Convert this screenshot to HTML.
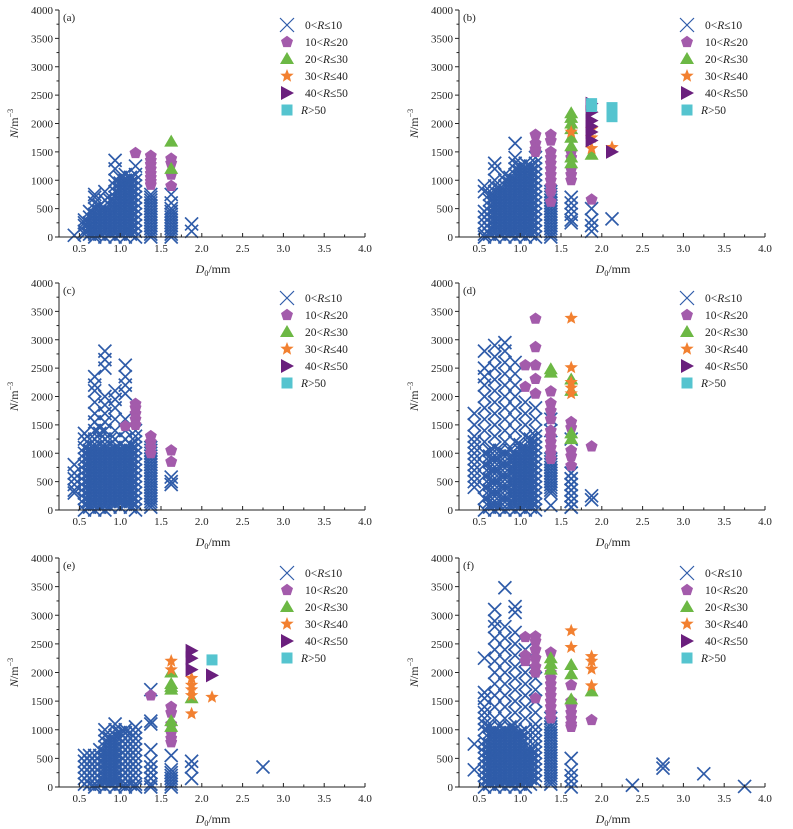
<!DOCTYPE html>
<html><head><meta charset="utf-8"><style>
html,body{margin:0;padding:0;background:#fff;}
svg{display:block;font-family:"Liberation Serif",serif;}
</style></head><body>
<svg id="chart" width="793" height="829" viewBox="0 0 793 829"></svg>
<script>
// ---- data: [D bin, [N values]] ----
const aCross=[[0.4375,[30]],[0.5625,[300,250,200,100,50]],[0.6875,[750,700,600,500,400,300,200,100,50,0]],[0.8125,[800,650,500,400,300,200,100,0]],[0.9375,[1350,1200,1000,900,800,700,600,500,400,300,200,100,0]],[1.0625,[1100,1000,950,900,800,700,600,500,400,300,200,100,0]],[1.1875,[1250,1100,1000,900,800,700,600,500,400,300,200,100,0]],[1.375,[750,700,600,500,400,300,200,100,0]],[1.625,[750,600,500,400,300,200,100,0]],[1.875,[230,100]]];
const aDense=[[0.625,[50,150,250,350,450]],[0.75,[50,150,250,350,450,550]],[0.875,[50,150,250,350,450,550,650]],[1.0,[50,150,250,350,450,550,650,750,850,950,1050]],[1.125,[50,150,250,350,450,550,650,750,850,950,1050]],[1.375,[50,150,250,350,450,550,650]],[1.625,[50,150,250,350,450]]];
const aPent=[[1.1875,[1480]],[1.375,[1430,1350,1280,1200,1120,1050,980,920]],[1.625,[1380,1300,1100,900]]];
const aTri=[[1.625,[1680,1200]]];
const aStar=[];const aRight=[];const aSq=[];

const bCross=[[0.5625,[900,800,450,350,250,150,50,0]],[0.6875,[1300,1200,1000,900,800,700,600,500,400,300,200,100,0]],[0.8125,[1100,1000,900,800,700,600,500,400,300,200,100,0]],[0.9375,[1650,1400,1300,1200,1100,1000,900,800,700,600,500,400,300,200,100,0]],[1.0625,[1300,1200,1100,1000,900,800,700,600,500,400,300,200,100,0]],[1.1875,[1400,1300,1200,1100,1000,900,800,700,600,500,400,300,200,100,0]],[1.375,[800,700,600,500,400,300,200,100,0]],[1.625,[700,600,500,400,300,250]],[1.875,[500,300,200,100]],[2.125,[320]]];
const bDense=[[0.625,[50,150,250,350,450,550,650,750]],[0.75,[50,150,250,350,450,550,650,750,850]],[0.875,[50,150,250,350,450,550,650,750,850,950,1050]],[1.0,[50,150,250,350,450,550,650,750,850,950,1050,1150,1250]],[1.125,[50,150,250,350,450,550,650,750,850,950,1050,1150,1250]],[1.375,[50,150,250,350,450,550,650,750]]];
const bPent=[[1.1875,[1800,1650,1550,1500]],[1.375,[1800,1700,1500,1400,1300,1200,1100,1000,900,800,620]],[1.625,[1500,1400,1200,1100,1000]],[1.875,[660]]];
const bTri=[[1.625,[2180,2100,2000,1900,1750,1600,1400,1300]],[1.875,[1450]]];
const bStar=[[1.625,[1850]],[1.875,[1900,1750,1560]],[2.125,[1580]]];
const bRight=[[1.875,[2350,2200,2050,1950,1850,1700]],[2.125,[1500]]];
const bSq=[[1.875,[2350,2300]],[2.125,[2280,2120]]];

const cCross=[[0.4375,[800,650,550,450,350,300]],[0.5625,[1350,1250,1100,1000,900,800,700,600,500,400,300,200,100,0]],[0.6875,[2350,2200,2100,1900,1700,1550,1400,1250,1100,1000,900,800,700,600,500,400,300,200,100,0]],[0.8125,[2800,2650,2500,2000,1850,1700,1550,1400,1250,1100,1000,900,800,700,600,500,400,300,200,100,0]],[0.9375,[2100,1950,1800,1600,1400,1250,1100,1000,900,800,700,600,500,400,300,200,100]],[1.0625,[2550,2350,2200,2050,1600,1400,1250,1100,1000,900,800,700,600,500,400,300,200,100]],[1.1875,[1400,1300,1200,1100,1000,900,800,700,600,500,400,300,200,100,0]],[1.375,[1100,1000,900,800,700,600,500,400,300,200,100,50]],[1.625,[580,500,450]]];
const cDense=[[0.625,[50,150,250,350,450,550,650,750,850,950,1050,1150,1250]],[0.75,[50,150,250,350,450,550,650,750,850,950,1050,1150,1250,1350,1450]],[0.875,[50,150,250,350,450,550,650,750,850,950,1050,1150,1250]],[1.0,[50,150,250,350,450,550,650,750,850,950,1050,1150]],[1.125,[50,150,250,350,450,550,650,750,850,950,1050,1150]],[1.375,[150,250,350,450,550,650,750,850,950,1050]]];
const cPent=[[1.0625,[1480]],[1.1875,[1870,1800,1700,1600,1500]],[1.375,[1300,1200,1100,1000]],[1.625,[1050,850]]];
const cTri=[];const cStar=[];const cRight=[];const cSq=[];

const dCross=[[0.4375,[1700,1500,1300,1200,1100,1000,900,800,700,600,500,400]],[0.5625,[2800,2500,2350,2200,2000,1800,1600,1400,1200,1000,800,600,400,200,0]],[0.6875,[2900,2700,2500,2300,2100,1900,1700,1500,1300,1100,900,700,500,300,100,0]],[0.8125,[2950,2800,2600,2400,2200,2000,1800,1600,1400,1200,1000,800,600,400,200,0]],[0.9375,[2600,2400,2200,2000,1800,1600,1400,1200,1000,900,800,700,600,500,400,300,200,100,0]],[1.0625,[1900,1700,1500,1300,1100,1000,900,800,700,600,500,400,300,200,100,0]],[1.1875,[1800,1600,1400,1300,1200,1100,1000,900,800,700,600,500,400,300,200,100,0]],[1.375,[1600,1400,900,800,700,600,500,400,300,80]],[1.625,[1250,650,550,450,350,250,150,50]],[1.875,[250,180]]];
const dDense=[[0.625,[50,150,250,350,450,550,650,750,850,950,1050]],[0.75,[50,150,250,350,450,550,650,750,850,950,1050]],[0.875,[50,150,250,350,450,550,650,750,850,950,1050]],[1.0,[50,150,250,350,450,550,650,750,850,950,1050,1150]],[1.125,[50,150,250,350,450,550,650,750,850,950,1050,1150,1250]],[1.375,[350,450,550,650,750,850]],[1.625,[50,150,250,350,450,550,650]]];
const dPent=[[1.0625,[2550,2170]],[1.1875,[3370,2870,2550,2310,2050]],[1.375,[2090,1880,1750,1600,1400,1300,1200,1100,1000,900]],[1.625,[1550,1450,1050,950,780]],[1.875,[1120]]];
const dTri=[[1.375,[2480,2420]],[1.625,[2300,2100,1350,1250]]];
const dStar=[[1.625,[3380,2510,2250,2150,2050]]];
const dRight=[];const dSq=[];

const eCross=[[0.5625,[550,450,350,250,150,50]],[0.6875,[550,450,350,250,150,50,0]],[0.8125,[1000,900,800,700,600,500,400,300,200,100,0]],[0.9375,[1100,1000,900,800,700,600,500,400,300,200,100,0]],[1.0625,[1000,950,850,750,650,550,450,350,250,150,50,0]],[1.1875,[1050,950,850,750,650,550,450,350,250,150,50,0]],[1.375,[1700,1150,1100,650,450,350,250,150,50,0]],[1.625,[550,300,200,100,0]],[1.875,[450,350,150]],[2.75,[350]]];
const eDense=[[0.625,[50,150,250,350,450,550]],[0.75,[50,150,250,350,450,550,650]],[0.875,[50,150,250,350,450,550,650,750,850]],[1.0,[50,150,250,350,450,550,650,750,850,950]],[1.125,[50,150,250,350,450,550,650,750,850,950]],[1.375,[50,150,250,350]],[1.625,[50,150,250]]];
const ePent=[[1.375,[1600]],[1.625,[1400,1300,1100,950,850,780]]];
const eTri=[[1.625,[2000,1800,1750,1700,1150,1050]],[1.875,[1550]]];
const eStar=[[1.625,[2200,2050]],[1.875,[1900,1780,1700,1600,1280]],[2.125,[1570]]];
const eRight=[[1.875,[2380,2250,2050]],[2.125,[1950]]];
const eSq=[[2.125,[2220]]];

const fCross=[[0.4375,[750,300]],[0.5625,[2250,1650,1550,1400,1300,1200,1100,1000,800,700,600,500,400,300,200,100,0]],[0.6875,[3100,2900,2800,2600,2400,2200,2000,1800,1600,1400,1200,1000,900,800,700,600,500,400,300,200,100,0]],[0.8125,[3480,2800,2600,2400,2200,2000,1800,1600,1400,1200,1000,900,800,700,600,500,400,300,200,100,0]],[0.9375,[3150,3050,2700,2500,2300,2100,1900,1700,1500,1300,1100,1000,900,800,700,600,500,400,300,200,100,0]],[1.0625,[2400,2200,2000,1800,1600,1400,1200,1000,900,800,700,600,500,400,300,200,100,0]],[1.1875,[1900,1700,1500,1300,1100,1000,900,800,700,600,500,400,300,200,100]],[1.375,[1200,1100,1000,900,800,700,600,500,400,300,200,100]],[1.625,[500,300,200,100,0]],[2.375,[30]],[2.75,[400,330]],[3.25,[230]],[3.75,[10]]];
const fDense=[[0.625,[50,150,250,350,450,550,650,750,850,950,1050]],[0.75,[50,150,250,350,450,550,650,750,850,950,1050]],[0.875,[50,150,250,350,450,550,650,750,850,950,1050]],[1.0,[50,150,250,350,450,550,650,750,850,950]],[1.125,[50,150,250,350,450,550,650]],[1.375,[50,150,250,350,450,550,650,750,850,950,1050]]];
const fPent=[[1.0625,[2620,2300,2200]],[1.1875,[2630,2550,2400,2250,2100,2000,1550]],[1.375,[2350,2000,1900,1800,1700,1600,1500,1400,1300,1200]],[1.625,[1780,1500,1400,1300,1200,1100,1050]],[1.875,[1170]]];
const fTri=[[1.375,[2250,2150,2050]],[1.625,[2130,1970,1530]],[1.875,[1670]]];
const fStar=[[1.625,[2730,2440]],[1.875,[2280,2200,2060,1770]]];
const fRight=[];const fSq=[];

const xTicks=["0.5","1.0","1.5","2.0","2.5","3.0","3.5","4.0"];
const yTicks=["0","500","1000","1500","2000","2500","3000","3500","4000"];
const legendLabels=["0<R≤10","10<R≤20","20<R≤30","30<R≤40","40<R≤50","R>50"];

const panels=[
 {id:"a",l:59,t:10,b:237,s:[aCross.concat(aDense),aPent,aTri,aStar,aRight,aSq]},
 {id:"b",l:459,t:10,b:237,s:[bCross.concat(bDense),bPent,bTri,bStar,bRight,bSq]},
 {id:"c",l:59,t:283,b:510,s:[cCross.concat(cDense),cPent,cTri,cStar,cRight,cSq]},
 {id:"d",l:459,t:283,b:510,s:[dCross.concat(dDense),dPent,dTri,dStar,dRight,dSq]},
 {id:"e",l:59,t:558,b:787,s:[eCross.concat(eDense),ePent,eTri,eStar,eRight,eSq]},
 {id:"f",l:459,t:558,b:787,s:[fCross.concat(fDense),fPent,fTri,fStar,fRight,fSq]}
];
const colors=["#2f5ca9","#a35bab","#6cb844","#f28030","#6a1f7d","#55c4cf"];
const names=["cross","pentagon","triangle","star","right-triangle","square"];
const NS="http://www.w3.org/2000/svg";
const svg=document.getElementById("chart");
function mk(tag,attrs,parent){const e=document.createElementNS(NS,tag);for(const k in attrs)e.setAttribute(k,attrs[k]);parent.appendChild(e);return e;}
function marker(kind,x,y,parent,sz){
 const c=colors[kind];let e;const r=sz||6.5;
 if(kind===0){e=mk("path",{d:`M${x-r},${y-r}L${x+r},${y+r}M${x-r},${y+r}L${x+r},${y-r}`,stroke:c,"stroke-width":sz?1.2:1.7,fill:"none"},parent);}
 else if(kind===1){let p=[];for(let i=0;i<5;i++){const a=-Math.PI/2+i*2*Math.PI/5;p.push((x+6.3*Math.cos(a)).toFixed(1)+","+(y+6.3*Math.sin(a)).toFixed(1));}e=mk("polygon",{points:p.join(" "),fill:c},parent);}
 else if(kind===2){e=mk("polygon",{points:`${x},${y-7} ${x+7},${y+5} ${x-7},${y+5}`,fill:c},parent);}
 else if(kind===3){let p=[];for(let i=0;i<10;i++){const a=-Math.PI/2+i*Math.PI/5;const rr=i%2?3:7;p.push((x+rr*Math.cos(a)).toFixed(1)+","+(y+rr*Math.sin(a)).toFixed(1));}e=mk("polygon",{points:p.join(" "),fill:c},parent);}
 else if(kind===4){e=mk("polygon",{points:`${x-6},${y-7} ${x+7},${y} ${x-6},${y+7}`,fill:c},parent);}
 else {e=mk("rect",{x:x-5.5,y:y-5.5,width:11,height:11,fill:c},parent);}
 return e;
}
panels.forEach(P=>{
 const g=mk("g",{},svg);
 
 
 const R=P.l+306;
 const xs=v=>P.l+(v-0.25)/3.75*306;
 const ys=v=>P.b-v/4000*(P.b-P.t);
 P.s.forEach((series,k)=>{
  const sg=mk("g",{},g);
  
  
  series.forEach(([d,arr])=>arr.forEach(n=>{const m=marker(k,xs(d),ys(n),sg);
   
   }));
 });
 const ax=mk("path",{d:`M${P.l},${P.t}V${P.b}H${R}`,stroke:"#222","stroke-width":1,fill:"none"},g);
 
 
 xTicks.forEach((t,i)=>{const v=0.5+i*0.5;const x=xs(v);mk("line",{x1:x,x2:x,y1:P.b,y2:P.b-4,stroke:"#222"},g);
  const mx=xs(v-0.25);mk("line",{x1:mx,x2:mx,y1:P.b,y2:P.b-2.5,stroke:"#222"},g);
  const tx=mk("text",{x:x,y:P.b+15,"font-size":11,"text-anchor":"middle",fill:"#222"},g);tx.textContent=t;
  
  });
 yTicks.forEach((t,i)=>{const v=i*500;const y=ys(v);mk("line",{x1:P.l,x2:P.l-4,y1:y,y2:y,stroke:"#222"},g);
  if(i<8){const my=ys(v+250);mk("line",{x1:P.l,x2:P.l-2.5,y1:my,y2:my,stroke:"#222"},g);}
  const tx=mk("text",{x:P.l-6,y:y+4,"font-size":11,"text-anchor":"end",fill:"#222"},g);tx.textContent=t;
  
  });
 const pl=mk("text",{x:P.l+4,y:P.t+11,"font-size":11,fill:"#222"},g);pl.textContent="("+P.id+")";
 
 
 const xt=mk("text",{x:P.l+154,y:P.b+36,"font-size":12,"text-anchor":"middle",fill:"#222"},g);
 xt.innerHTML='<tspan font-style="italic">D</tspan><tspan font-size="8" dy="3">0</tspan><tspan dy="-3">/mm</tspan>';
 
 
 const cy=(P.t+P.b)/2;
 const yt=mk("text",{x:0,y:0,"font-size":12,"text-anchor":"middle",fill:"#222",transform:`translate(${P.l-41},${cy}) rotate(-90)`},g);
 yt.innerHTML='<tspan font-style="italic">N</tspan><tspan>/m</tspan><tspan font-size="8" dy="-5">−3</tspan>';
 
 
 const lg=mk("g",{},g);
 
 
 legendLabels.forEach((lab,k)=>{const y=P.t+15+k*17;const e=mk("g",{},lg);
  
  
  marker(k,P.l+228,y,e,7);
  const tx=mk("text",{x:k===5?P.l+242:P.l+246,y:y+4,"font-size":11.5,fill:"#222"},e);
  const parts=lab.split("R");tx.innerHTML=parts[0]+'<tspan font-style="italic">R</tspan>'+parts[1];});
});
</script>
</body></html>
